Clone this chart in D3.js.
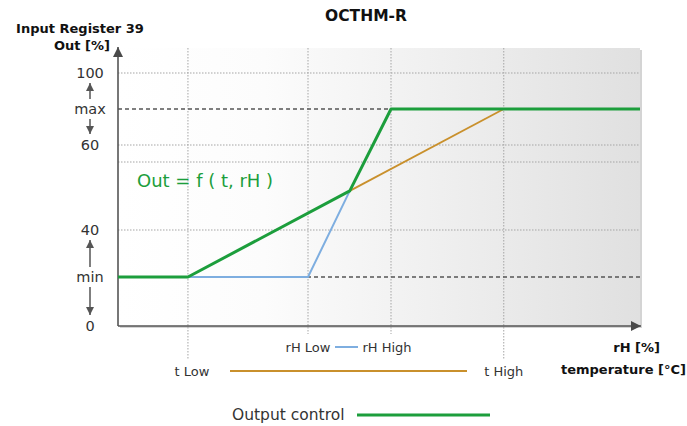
<!DOCTYPE html>
<html>
<head>
<meta charset="utf-8">
<script src="https://cdn.jsdelivr.net/npm/d3@7"></script>
<style>
  body { margin: 0; background: #fff; }
  text { font-family: "DejaVu Sans", Verdana, sans-serif; fill: #333; }
</style>
</head>
<body>
<svg id="chart"></svg>
<script>
// schematic positions on the x axis (0..100 across the plot)
const xMarks = ["t Low", "rH Low", "rH High", "t High"];
const xMarkValues = [13.4, 36.4, 52.3, 73.9];
const xMarkDrop = [34, 8, 8, 34];

// y axis: labels and the value each one stands for
const yLabels = ["0", "min", "40", "60", "max", "100"];
const yValues = [0, 20, 40, 60, 80, 100];
const yPixels = [326, 277, 230, 145, 109, 73];
const yGrid = [100, 56, 60, 40];
const yDashed = [80, 20];

// the three curves
const outputX = [0, 13.4, 44.4, 52.3, 100];
const outputY = [20, 20, 49.2, 80, 80];
const rhX = [13.4, 36.4, 44.4];
const rhY = [20, 20, 49.2];
const tempX = [44.4, 73.9];
const tempY = [49.2, 80];

const width = 687, height = 426;
const plot = { left: 118, right: 640, top: 48, bottom: 326 };

const svg = d3.select("#chart").attr("width", width).attr("height", height);
const defs = svg.append("defs");

const grad = defs.append("linearGradient").attr("id", "bg").attr("x1", 0).attr("x2", 1);
grad.append("stop").attr("offset", "0%").attr("stop-color", "#ffffff");
grad.append("stop").attr("offset", "28%").attr("stop-color", "#fcfcfc");
grad.append("stop").attr("offset", "62%").attr("stop-color", "#efefef");
grad.append("stop").attr("offset", "100%").attr("stop-color", "#e0e0e0");

function arrowHead(id, color, w, h) {
    defs.append("marker")
        .attr("id", id)
        .attr("viewBox", "0 0 10 10")
        .attr("refX", 10).attr("refY", 5)
        .attr("markerUnits", "userSpaceOnUse")
        .attr("markerWidth", w).attr("markerHeight", h)
        .attr("orient", "auto")
        .append("path").attr("d", "M0,0 L10,5 L0,10 Z").attr("fill", color);
}
arrowHead("axisArrow", "#4a4a4a", 14, 10);
arrowHead("smallArrow", "#555", 10, 8);

const x = d3.scaleLinear().domain([0, 100]).range([plot.left, plot.right]);
const y = d3.scaleLinear().domain(yValues).range(yPixels);

// background + shadow
svg.append("rect")
    .attr("x", plot.left + 2).attr("y", plot.top + 2)
    .attr("width", plot.right - plot.left).attr("height", plot.bottom - plot.top)
    .attr("fill", "#d4d4d4");
svg.append("rect")
    .attr("x", plot.left).attr("y", plot.top)
    .attr("width", plot.right - plot.left).attr("height", plot.bottom - plot.top)
    .attr("fill", "url(#bg)");

// grid
svg.append("g").selectAll("line").data(yGrid).join("line")
    .attr("x1", plot.left).attr("x2", plot.right)
    .attr("y1", d => y(d)).attr("y2", d => y(d))
    .attr("stroke", "#a5a5a5").attr("stroke-width", 1)
    .attr("stroke-dasharray", "1.5,1.5");

svg.append("g").selectAll("line").data(xMarkValues).join("line")
    .attr("x1", d => x(d)).attr("x2", d => x(d))
    .attr("y1", plot.top).attr("y2", (d, i) => plot.bottom + xMarkDrop[i])
    .attr("stroke", "#a5a5a5").attr("stroke-width", 1)
    .attr("stroke-dasharray", "1.5,1.5");

svg.append("g").selectAll("line").data(yDashed).join("line")
    .attr("x1", plot.left).attr("x2", plot.right)
    .attr("y1", d => y(d)).attr("y2", d => y(d))
    .attr("stroke", "#555").attr("stroke-width", 1.6)
    .attr("stroke-dasharray", "4,3");

// axes
svg.append("line")
    .attr("x1", plot.left).attr("x2", plot.left)
    .attr("y1", plot.bottom).attr("y2", plot.top - 1)
    .attr("stroke", "#555").attr("stroke-width", 1.6)
    .attr("marker-end", "url(#axisArrow)");
svg.append("line")
    .attr("x1", plot.left).attr("x2", plot.right + 1)
    .attr("y1", plot.bottom).attr("y2", plot.bottom)
    .attr("stroke", "#555").attr("stroke-width", 1.6)
    .attr("marker-end", "url(#axisArrow)");

// curves
const line = d3.line().x(d => x(d[0])).y(d => y(d[1]));
svg.append("path").datum(d3.zip(rhX, rhY)).attr("d", line)
    .attr("fill", "none").attr("stroke", "#7eaee0").attr("stroke-width", 2);
svg.append("path").datum(d3.zip(tempX, tempY)).attr("d", line)
    .attr("fill", "none").attr("stroke", "#c9902c").attr("stroke-width", 1.8);
svg.append("path").datum(d3.zip(outputX, outputY)).attr("d", line)
    .attr("fill", "none").attr("stroke", "#1c9e3c").attr("stroke-width", 3)
    .attr("stroke-linejoin", "round");

// y labels
const labelX = 90;
svg.append("g").selectAll("text").data(yLabels).join("text")
    .attr("x", labelX).attr("y", (d, i) => y(yValues[i]))
    .attr("dy", "0.35em")
    .attr("text-anchor", "middle")
    .style("font-size", "14.5px")
    .text(d => d);

// little arrows between labels: [from value, to value]
const labelArrows = [[80, 100], [80, 60], [20, 40], [20, 0]];
svg.append("g").selectAll("line").data(labelArrows).join("line")
    .attr("x1", labelX).attr("x2", labelX)
    .attr("y1", d => y(d[0]) + (d[1] > d[0] ? -10 : 10))
    .attr("y2", d => y(d[1]) + (d[1] > d[0] ? 10 : -11))
    .attr("stroke", "#555").attr("stroke-width", 1.5)
    .attr("marker-end", "url(#smallArrow)");

// titles
svg.append("text").attr("x", 366).attr("y", 21).attr("text-anchor", "middle")
    .style("font-size", "15.5px").style("font-weight", "bold").style("fill", "#111")
    .text("OCTHM-R");
svg.append("text").attr("x", 80).attr("y", 33).attr("text-anchor", "middle")
    .style("font-size", "13px").style("font-weight", "bold").style("fill", "#111")
    .text("Input Register 39");
svg.append("text").attr("x", 110).attr("y", 50).attr("text-anchor", "end")
    .style("font-size", "13px").style("font-weight", "bold").style("fill", "#111")
    .text("Out [%]");

svg.append("text").attr("x", 137).attr("y", 187)
    .style("font-size", "18px").style("fill", "#1c9e3c")
    .text("Out = f ( t, rH )");

// bottom labels
const rhRow = 352, tRow = 376;
const small = "13px";
svg.append("text").attr("x", x(xMarkValues[1])).attr("y", rhRow).attr("text-anchor", "middle")
    .style("font-size", small).text(xMarks[1]);
svg.append("text").attr("x", x(xMarkValues[2]) - 4).attr("y", rhRow).attr("text-anchor", "middle")
    .style("font-size", small).text(xMarks[2]);
svg.append("line").attr("x1", 335).attr("x2", 358).attr("y1", rhRow - 5).attr("y2", rhRow - 5)
    .attr("stroke", "#7eaee0").attr("stroke-width", 2);

svg.append("text").attr("x", x(xMarkValues[0]) + 4).attr("y", tRow).attr("text-anchor", "middle")
    .style("font-size", small).text(xMarks[0]);
svg.append("text").attr("x", x(xMarkValues[3])).attr("y", tRow).attr("text-anchor", "middle")
    .style("font-size", small).text(xMarks[3]);
svg.append("line").attr("x1", 230).attr("x2", 467).attr("y1", tRow - 5).attr("y2", tRow - 5)
    .attr("stroke", "#c9902c").attr("stroke-width", 1.8);

svg.append("text").attr("x", 660).attr("y", rhRow).attr("text-anchor", "end")
    .style("font-size", small).style("font-weight", "bold").style("fill", "#111")
    .text("rH [%]");
svg.append("text").attr("x", 686).attr("y", tRow - 2).attr("text-anchor", "end")
    .style("font-size", small).style("font-weight", "bold").style("fill", "#111")
    .text("temperature [°C]");

// legend
svg.append("text").attr("x", 232).attr("y", 420)
    .style("font-size", "15.5px").text("Output control");
svg.append("line").attr("x1", 357).attr("x2", 490).attr("y1", 415).attr("y2", 415)
    .attr("stroke", "#1c9e3c").attr("stroke-width", 3);
</script>
</body>
</html>
